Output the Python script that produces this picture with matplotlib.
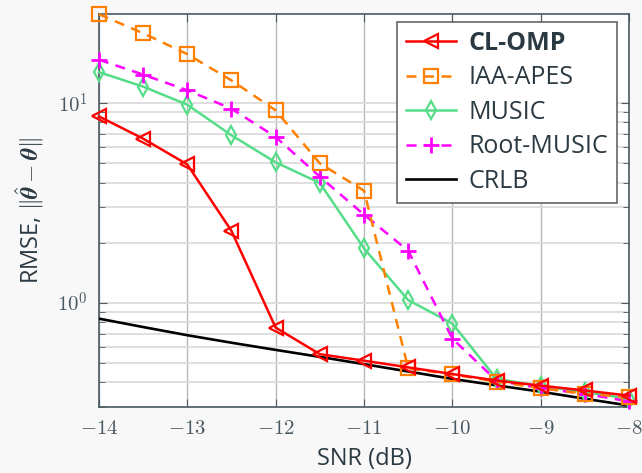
import matplotlib
matplotlib.use("Agg")
import matplotlib.pyplot as plt
from matplotlib.ticker import FixedLocator, NullFormatter

plt.rcParams['font.family'] = ['Open Sans', 'DejaVu Sans']
plt.rcParams['mathtext.fontset'] = 'cm'

snr = [-14, -13.5, -13, -12.5, -12, -11.5, -11, -10.5, -10, -9.5, -9, -8.5, -8]

cl_omp = [8.58, 6.64, 4.93, 2.29, 0.75, 0.552, 0.512, 0.474, 0.439, 0.407, 0.384, 0.363, 0.342]
iaa_apes = [27.9, 22.4, 17.6, 13.0, 9.2, 4.99, 3.64, 0.469, 0.437, 0.402, 0.373, 0.349, 0.336]
music = [14.3, 12.1, 9.82, 6.9, 5.05, 3.98, 1.87, 1.03, 0.786, 0.415, 0.381, 0.356, 0.33]
root_music = [16.5, 13.9, 11.6, 9.38, 6.77, 4.28, 2.76, 1.82, 0.66, 0.407, 0.373, 0.349, 0.32]
crlb = [0.832, 0.755, 0.687, 0.63, 0.58, 0.535, 0.492, 0.452, 0.415, 0.385, 0.358, 0.33, 0.305]

xticks = [-14, -13, -12, -11, -10, -9, -8]

text_col = '#2b3a42'
tick_col = '#4a5a62'

fig = plt.figure(figsize=(6.42, 4.73), dpi=100, facecolor='#f8f8f8')
ax = fig.add_axes([0.154, 0.1395, 0.826, 0.8305])
ax.set_facecolor('white')

ax.plot(snr, cl_omp, color='#ff0000', lw=1.8, marker='<', ms=10.5, mfc='none', mew=1.6,
        label='CL-OMP', zorder=5, clip_on=False)
ax.plot(snr, iaa_apes, color='#ff8000', lw=1.8, ls=(0, (4, 3)), marker='s', ms=10, mfc='none',
        mew=1.6, label='IAA-APES', zorder=4, clip_on=False)
ax.plot(snr, music, color='#55dd88', lw=1.8, marker='d', ms=9, mfc='none', mew=1.6,
        label='MUSIC', zorder=3, clip_on=False)
ax.plot(snr, root_music, color='#ff00ff', lw=1.8, ls=(0, (4, 3)), marker='+', ms=12, mew=2,
        label='Root-MUSIC', zorder=3, clip_on=False)
ax.plot(snr, crlb, color='black', lw=1.9, label='CRLB', zorder=2)

ax.set_yscale('log')
ax.set_xlim(-14, -8)
ax.set_ylim(0.3, 27.9)

ax.set_xticks(xticks)
ax.set_xticklabels([r'$%d$' % t for t in xticks])
ax.yaxis.set_major_locator(FixedLocator([1, 10]))
ax.set_yticklabels([r'$10^0$', r'$10^1$'])
ax.yaxis.set_minor_locator(FixedLocator([0.3, 0.4, 0.5, 0.6, 0.7, 0.8, 0.9,
                                         2, 3, 4, 5, 6, 7, 8, 9]))
ax.yaxis.set_minor_formatter(NullFormatter())

ax.tick_params(axis='both', which='both', direction='in', top=True, right=True,
               colors=tick_col, labelsize=15)
ax.tick_params(axis='y', which='minor', length=4)
ax.tick_params(axis='both', which='major', length=6, pad=8)

ax.grid(True, axis='x', which='major', color='#b8b8b8', lw=1)
ax.grid(True, axis='y', which='both', color='#dcdcdc', lw=1.3)
ax.set_axisbelow(True)

for s in ax.spines.values():
    s.set_color('#4a5a62')
    s.set_linewidth(1.2)
    s.set_zorder(1)

ax.set_xlabel('SNR (dB)', fontsize=17, color=text_col, labelpad=6)
ax.set_ylabel(r'RMSE, $\|\hat{\boldsymbol{\theta}} - \boldsymbol{\theta}\|$', fontsize=17,
              color=text_col, labelpad=8)

leg = ax.legend(loc='upper right', fontsize=18, fancybox=False, framealpha=1,
                edgecolor='#666666', borderpad=0.35, labelspacing=0.38,
                handlelength=2.0, handletextpad=0.5, borderaxespad=0,
                bbox_to_anchor=(0.977, 0.98))
leg.get_frame().set_linewidth(1.2)
leg.set_zorder(10)
for i, t in enumerate(leg.get_texts()):
    t.set_color(text_col)
    if i == 0:
        t.set_fontweight('bold')

fig.savefig('out.png', dpi=100, facecolor=fig.get_facecolor())
